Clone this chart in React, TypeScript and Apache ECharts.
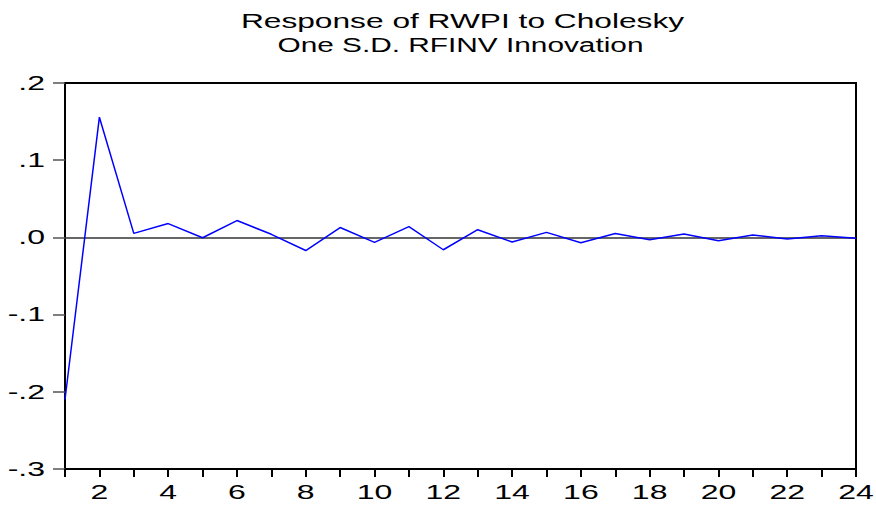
import React, { useEffect, useRef } from "react";
import * as echarts from "echarts";

const periods = [1,2,3,4,5,6,7,8,9,10,11,12,13,14,15,16,17,18,19,20,21,22,23,24];
const response = [-0.210, 0.1557, 0.0052, 0.0179, -0.0004, 0.0218, 0.004, -0.017, 0.0128, -0.0065, 0.014, -0.016, 0.0100, -0.006, 0.0065, -0.007, 0.005, -0.003, 0.0044, -0.0043, 0.003, -0.002, 0.002, -0.001];
const titleLines = ["Response of RWPI to Cholesky", "One S.D. RFINV Innovation"];
const yTickValues = [0.2, 0.1, 0, -0.1, -0.2, -0.3];
const yTickLabels = [".2", ".1", ".0", "-.1", "-.2", "-.3"];
const xTickValues = [2, 4, 6, 8, 10, 12, 14, 16, 18, 20, 22, 24];
const xTickLabels = ["2", "4", "6", "8", "10", "12", "14", "16", "18", "20", "22", "24"];

export default function App() {
  const ref = useRef<HTMLDivElement>(null);
  useEffect(() => {
    if (!ref.current) return;
    const chart = echarts.init(ref.current, null, { renderer: "svg" });
    const font = "'Liberation Sans', Arial, sans-serif";
    chart.setOption({
      animation: false,
      backgroundColor: "#ffffff",
      grid: {
        left: 65, right: 20, top: 83, bottom: 37,
        show: true, borderColor: "#000", borderWidth: 2, backgroundColor: "transparent",
      },
      xAxis: {
        type: "value",
        min: 1, max: 24, interval: 1,
        axisLine: { show: true, onZero: false, lineStyle: { color: "#000", width: 2 } },
        axisTick: { show: true, length: 8, inside: false, lineStyle: { color: "#000", width: 2 } },
        splitLine: { show: false },
        axisLabel: { show: false },
      },
      yAxis: {
        type: "value",
        min: -0.3, max: 0.2, interval: 0.1,
        axisLine: { show: true, onZero: false, lineStyle: { color: "#000", width: 2 } },
        axisTick: { show: true, length: 12, inside: false, lineStyle: { color: "#555", width: 1.5 } },
        splitLine: { show: false },
        axisLabel: { show: false },
      },
      series: [
        {
          type: "line",
          data: periods.map((p, i) => [p, response[i]]),
          showSymbol: false,
          symbol: "none",
          lineStyle: { color: "#0000ff", width: 1.5 },
          z: 3,
          markLine: {
            silent: true,
            symbol: "none",
            label: { show: false },
            lineStyle: { color: "#333", width: 1.5, type: "solid" },
            data: [{ yAxis: 0 }],
            z: 2,
          },
        },
      ],
    });

    const graphics: any[] = [];
    const titleScale = [1.51, 1.42];
    const titleY = [20.5, 44.5];
    const titleX = [462.5, 460.5];
    titleLines.forEach((t, i) => {
      graphics.push({
        type: "text",
        x: titleX[i], y: titleY[i], scaleX: titleScale[i], scaleY: 1,
        silent: true,
        style: { text: t, x: 0, y: 0, align: "center", verticalAlign: "middle", fontFamily: font, fontSize: 21, fill: "#000" },
      });
    });
    yTickValues.forEach((v, i) => {
      const p = chart.convertToPixel({ gridIndex: 0 }, [1, v]) as number[];
      graphics.push({
        type: "text",
        x: 45, y: p[1], scaleX: 1.6, scaleY: 1,
        silent: true,
        style: { text: yTickLabels[i], x: 0, y: 0, align: "right", verticalAlign: "middle", fontFamily: font, fontSize: 20, fill: "#000" },
      });
    });
    xTickValues.forEach((v, i) => {
      const p = chart.convertToPixel({ gridIndex: 0 }, [v, -0.3]) as number[];
      graphics.push({
        type: "text",
        x: p[0], y: 492, scaleX: 1.6, scaleY: 1,
        silent: true,
        style: { text: xTickLabels[i], x: 0, y: 0, align: "center", verticalAlign: "middle", fontFamily: font, fontSize: 20, fill: "#000" },
      });
    });
    chart.setOption({ graphic: graphics });
    return () => chart.dispose();
  }, []);
  return <div ref={ref} style={{ width: 876, height: 506, position: "absolute", left: 0, top: 0 }} />;
}
